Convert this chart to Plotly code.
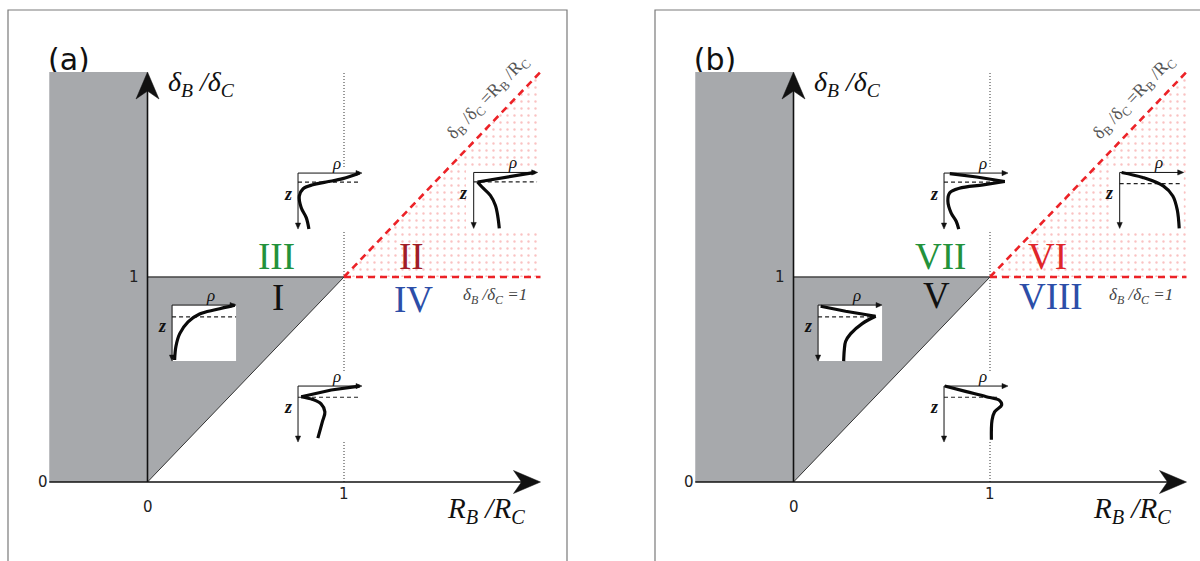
import plotly.graph_objects as go

# ---------------------------------------------------------------- geometry
W, H = 1200, 561
UX, UY = 196.5, 205.0                 # pixels per unit of R_B/R_C and δ_B/δ_C
PANEL_ORIGIN = {"a": (147.5, 482.0), "b": (793.5, 482.0)}
PANEL_SPAN = {"a": (0, 600), "b": (600, 1200)}
INSET_W, INSET_H = 64.0, 56.0         # size of a profile sketch, pixels
RHO_RANGE = (-0.25, 1.06)
Z_RANGE = (-0.30, 1.06)

# ---------------------------------------------------------------- regime diagram
strip_x = [-0.5, 0.0, 0.0, -0.5, -0.5]
strip_y = [0.0, 0.0, 2.0, 2.0, 0.0]
wedge_x = [0.0, 0.0, 1.0, 0.0]
wedge_y = [0.0, 1.0, 1.0, 0.0]
dotted_x = [1.0, 2.0, 2.0, 1.0]
dotted_y = [1.0, 1.0, 2.0, 1.0]
unit_x = [0.0, 1.0]
unit_y = [1.0, 1.0]
diag_x = [0.0, 1.0]
diag_y = [0.0, 1.0]
red_flat_x = [1.0, 2.0]
red_flat_y = [1.0, 1.0]
red_diag_x = [1.0, 2.0]
red_diag_y = [1.0, 2.0]
crit_x = [1.0, 1.0]
crit_y = [0.0, 2.0]
x_axis_ends = [-0.5, 2.0]
y_axis_ends = [0.0, 2.0]

tick_text = ["0", "1", "0", "1"]
tick_x = [-0.53, -0.07, 0.0, 1.0]
tick_y = [0.0, 1.0, -0.12, -0.06]

region_names_a = ["III", "I", "II", "IV"]
region_names_b = ["VII", "V", "VI", "VIII"]
region_colors_a = ["#23923b", "#111111", "#a11d26", "#2c4ea8"]
region_colors_b = ["#23923b", "#111111", "#e0262b", "#2c4ea8"]
region_x_a = [0.659, 0.664, 1.346, 1.356]
region_y_a = [1.102, 0.898, 1.098, 0.888]
region_x_b = [0.746, 0.730, 1.295, 1.310]
region_y_b = [1.102, 0.912, 1.098, 0.907]

# ---------------------------------------------------------------- density profiles ρ(z)
# ρ to the right, z downward, both scaled to [0, 1]; KINK marks a sharp corner
RHO_A1 = [0.96, 0.70, 0.44, 0.23, 0.08, 0.02, 0.05, 0.13, 0.17]
Z_A1 = [0.00, 0.10, 0.16, 0.21, 0.28, 0.41, 0.62, 0.80, 1.00]
RHO_A2 = [0.96, 0.52, 0.06, 0.13, 0.26, 0.34, 0.38, 0.40]
Z_A2 = [0.00, 0.08, 0.17, 0.26, 0.41, 0.59, 0.81, 1.00]
RHO_A3 = [0.98, 0.69, 0.43, 0.25, 0.12, 0.06, 0.04]
Z_A3 = [0.00, 0.08, 0.16, 0.30, 0.51, 0.74, 0.98]
RHO_A4 = [0.96, 0.52, 0.05, 0.23, 0.36, 0.42, 0.38, 0.31]
Z_A4 = [0.00, 0.07, 0.19, 0.24, 0.32, 0.46, 0.64, 0.93]

RHO_B1 = [0.09, 0.51, 0.95, 0.61, 0.24, 0.09, 0.06, 0.11, 0.19, 0.23]
Z_B1 = [0.01, 0.07, 0.15, 0.21, 0.27, 0.35, 0.50, 0.71, 0.86, 1.00]
RHO_B2 = [0.03, 0.36, 0.68, 0.83, 0.90, 0.93]
Z_B2 = [0.00, 0.09, 0.24, 0.42, 0.67, 1.00]
RHO_B3 = [0.04, 0.43, 0.90, 0.69, 0.51, 0.43, 0.41, 0.40]
Z_B3 = [0.02, 0.11, 0.20, 0.33, 0.51, 0.65, 0.80, 1.00]
RHO_B4 = [0.01, 0.35, 0.66, 0.87, 0.90, 0.79, 0.75, 0.74]
Z_B4 = [0.00, 0.10, 0.19, 0.26, 0.34, 0.46, 0.61, 0.96]

KINK_A = [None, 2, None, 2]
KINK_B = [2, None, 2, None]
DASH_Z_A = [0.16, 0.17, 0.21, 0.20]
DASH_Z_B = [0.16, 0.20, 0.21, 0.20]
DASH_END_A = [0.94, 0.99, 1.0, 0.94]
DASH_END_B = [0.92, 0.94, 0.9, 0.87]

# lower-left corner of each sketch's axes, in diagram units
INSET_CORNERS = [(0.766, 1.507), (1.66, 1.51), (0.125, 0.863), (0.766, 0.468)]
# white backing behind each sketch: (rho0, rho1, z0, z1) in sketch units
INSET_BACKING = [(-0.25, 1.06, -0.10, 1.03), (-0.12, 1.0, -0.06, 1.03),
                 (0.0, 1.0, 0.0, 1.0), (-0.25, 1.06, -0.27, 0.99)]

GRAY = "#a7a9ac"
SERIF = "Liberation Serif"
SANS = "DejaVu Sans"

fig = go.Figure()
annotations = []
layout_axes = {}


def axis_name(i, kind):
    return kind + ("axis" if i == 1 else f"axis{i}")


def ref(i, kind):
    return kind if i == 1 else f"{kind}{i}"


def arrow_head(tip_x, tip_y, ddx, ddy, sx, sy, length, half, notch):
    """Outline of an arrowhead ending at (tip_x, tip_y).

    (ddx, ddy) is the screen direction of the arrow, sx / sy convert screen
    pixels into data units along each axis."""
    local = [(0, 0), (-length, -half), (-length + notch, 0), (-length, half), (0, 0)]
    xs, ys = [], []
    for a, p in local:
        px = a * ddx - p * ddy
        py = a * ddy + p * ddx
        xs.append(tip_x + px * sx)
        ys.append(tip_y + py * sy)
    return xs, ys


def add_arrow(common, x0, y0, x1, y1, ddx, ddy, sx, sy, length, half, notch, width):
    back = length - notch - 0.5
    lx = x1 - back * ddx * sx
    ly = y1 - back * ddy * sy
    fig.add_trace(go.Scatter(x=[x0, lx], y=[y0, ly], mode="lines",
                             line=dict(color="#111", width=width), **common))
    hx, hy = arrow_head(x1, y1, ddx, ddy, sx, sy, length, half, notch)
    fig.add_trace(go.Scatter(x=hx, y=hy, mode="lines", fill="toself", fillcolor="#111",
                             line=dict(color="#111", width=0.5), **common))


def add_panel(key, idx, tag, names, colors, rx, ry):
    ox, oy = PANEL_ORIGIN[key]
    p0, p1 = PANEL_SPAN[key]
    xr, yr = ref(idx, "x"), ref(idx, "y")
    layout_axes[axis_name(idx, "x")] = dict(
        domain=[p0 / W, p1 / W], range=[(p0 - ox) / UX, (p1 - ox) / UX],
        visible=False, anchor=yr)
    layout_axes[axis_name(idx, "y")] = dict(
        domain=[0, 1], range=[(oy - H) / UY, oy / UY], visible=False, anchor=xr)

    common = dict(xaxis=xr, yaxis=yr, showlegend=False, hoverinfo="skip")
    # panel tag sits underneath the gray strip
    fig.add_trace(go.Scatter(x=[-0.40], y=[2.045], mode="text", text=[tag],
                             textfont=dict(family=SANS, size=30, color="#111"),
                             **common))
    fig.add_trace(go.Scatter(x=strip_x, y=strip_y, fill="toself", fillcolor=GRAY,
                             mode="lines", line=dict(width=0), **common))
    fig.add_trace(go.Scatter(x=wedge_x, y=wedge_y, fill="toself", fillcolor=GRAY,
                             mode="lines", line=dict(width=0), **common))
    fig.add_trace(go.Scatter(
        x=dotted_x, y=dotted_y, fill="toself", fillcolor="rgba(0,0,0,0)",
        fillpattern=dict(shape=".", fgcolor="rgba(240,80,80,0.7)",
                         bgcolor="rgba(255,255,255,0)", size=7, solidity=0.09),
        mode="lines", line=dict(width=0), **common))
    fig.add_trace(go.Scatter(x=crit_x, y=crit_y, mode="lines",
                             line=dict(color="#333", width=1, dash="1px,2px"), **common))
    fig.add_trace(go.Scatter(x=unit_x, y=unit_y, mode="lines",
                             line=dict(color="#444", width=1.6), **common))
    fig.add_trace(go.Scatter(x=diag_x, y=diag_y, mode="lines",
                             line=dict(color="#333", width=1), **common))
    for lx, ly in ((red_flat_x, red_flat_y), (red_diag_x, red_diag_y)):
        fig.add_trace(go.Scatter(x=lx, y=ly, mode="lines",
                                 line=dict(color="#ec2227", width=2.6, dash="7px,5px"),
                                 **common))

    # arrowed axes
    add_arrow(common, x_axis_ends[0], 0, x_axis_ends[1], 0, 1, 0, 1 / UX, -1 / UY,
              27, 11.5, 8, 1.6)
    add_arrow(common, 0, y_axis_ends[0], 0, y_axis_ends[1], 0, -1, 1 / UX, -1 / UY,
              27, 11.5, 8, 1.6)

    txt = dict(xref=xr, yref=yr, showarrow=False, xanchor="center", yanchor="middle")
    for t, tx, ty in zip(tick_text, tick_x, tick_y):
        annotations.append(dict(x=tx, y=ty, text=t,
                                font=dict(family=SANS, size=15, color="#222"), **txt))
    annotations.append(dict(x=0.277, y=1.946,
                            text="<i>δ<sub>B</sub> /δ<sub>C</sub></i>",
                            font=dict(family=SERIF, size=28, color="#111"), **txt))
    annotations.append(dict(x=1.722, y=-0.135,
                            text="<i>R<sub>B</sub> /R<sub>C</sub></i>",
                            font=dict(family=SERIF, size=29, color="#111"), **txt))
    annotations.append(dict(x=1.768, y=0.905,
                            text="<i>δ<sub>B</sub> /δ<sub>C</sub> =1</i>",
                            font=dict(family=SERIF, size=17, color="#444"), **txt))
    annotations.append(dict(x=1.735, y=1.875, textangle=-46.2,
                            text="δ<sub>B</sub> /δ<sub>C</sub> =R<sub>B</sub> /R<sub>C</sub>",
                            font=dict(family=SERIF, size=18, color="#555"), **txt))
    for n, c, x, y in zip(names, colors, rx, ry):
        annotations.append(dict(x=x, y=y, text=n,
                                font=dict(family=SERIF, size=37, color=c), **txt))


def add_inset(key, idx, corner, backing, rho, z, kink, dash_z, dash_end):
    ox, oy = PANEL_ORIGIN[key]
    cx = ox + corner[0] * UX
    cy = oy - corner[1] * UY
    left = cx + RHO_RANGE[0] * INSET_W
    right = cx + RHO_RANGE[1] * INSET_W
    top = cy + Z_RANGE[0] * INSET_H
    bottom = cy + Z_RANGE[1] * INSET_H
    xr, yr = ref(idx, "x"), ref(idx, "y")
    layout_axes[axis_name(idx, "x")] = dict(
        domain=[left / W, right / W], range=list(RHO_RANGE), visible=False, anchor=yr)
    layout_axes[axis_name(idx, "y")] = dict(
        domain=[1 - bottom / H, 1 - top / H], range=[Z_RANGE[1], Z_RANGE[0]],
        visible=False, anchor=xr)
    common = dict(xaxis=xr, yaxis=yr, showlegend=False, hoverinfo="skip")

    bx0, bx1, bz0, bz1 = backing
    fig.add_trace(go.Scatter(x=[bx0, bx1, bx1, bx0, bx0], y=[bz0, bz0, bz1, bz1, bz0],
                             fill="toself", fillcolor="white", mode="lines",
                             line=dict(width=0), **common))
    fig.add_trace(go.Scatter(x=[0, dash_end], y=[dash_z, dash_z], mode="lines",
                             line=dict(color="#222", width=1.2, dash="4px,3px"), **common))

    # ρ axis to the right, z axis pointing down
    sx, sz = 1 / INSET_W, 1 / INSET_H
    add_arrow(common, 0, 0, 1.0, 0, 1, 0, sx, sz, 6, 2.6, 0, 1)
    add_arrow(common, 0, 0, 0, 1.0, 0, 1, sx, sz, 6, 2.6, 0, 1)

    prof = dict(color="#0a0a0a", width=3.2)
    if kink is None:
        fig.add_trace(go.Scatter(x=rho, y=z, mode="lines",
                                 line=dict(shape="spline", smoothing=1.0, **prof), **common))
    else:
        fig.add_trace(go.Scatter(x=rho[:kink + 1], y=z[:kink + 1], mode="lines",
                                 line=prof, **common))
        fig.add_trace(go.Scatter(x=rho[kink:], y=z[kink:], mode="lines",
                                 line=dict(shape="spline", smoothing=1.0, **prof), **common))

    txt = dict(xref=xr, yref=yr, showarrow=False, xanchor="center", yanchor="middle")
    annotations.append(dict(x=0.6, y=-0.17, text="<i>ρ</i>",
                            font=dict(family=SERIF, size=17, color="#111"), **txt))
    annotations.append(dict(x=-0.16, y=0.37, text="<b><i>z</i></b>",
                            font=dict(family=SERIF, size=18, color="#111"), **txt))


add_panel("a", 1, "(a)", region_names_a, region_colors_a, region_x_a, region_y_a)
add_panel("b", 2, "(b)", region_names_b, region_colors_b, region_x_b, region_y_b)

profiles_a = [(RHO_A1, Z_A1), (RHO_A2, Z_A2), (RHO_A3, Z_A3), (RHO_A4, Z_A4)]
profiles_b = [(RHO_B1, Z_B1), (RHO_B2, Z_B2), (RHO_B3, Z_B3), (RHO_B4, Z_B4)]
idx = 3
for key, profs, kinks, dz, de in (("a", profiles_a, KINK_A, DASH_Z_A, DASH_END_A),
                                  ("b", profiles_b, KINK_B, DASH_Z_B, DASH_END_B)):
    for k in range(4):
        add_inset(key, idx, INSET_CORNERS[k], INSET_BACKING[k], profs[k][0], profs[k][1],
                  kinks[k], dz[k], de[k])
        idx += 1

# panel frames
frame = dict(type="rect", xref="paper", yref="paper", line=dict(color="#7a7a7a", width=1.2),
             fillcolor="rgba(0,0,0,0)", layer="above")
shapes = [
    dict(x0=8 / W, x1=567 / W, y0=-0.2, y1=1 - 10 / H, **frame),
    dict(x0=655 / W, x1=1.2, y0=-0.2, y1=1 - 10 / H, **frame),
]

fig.update_layout(
    width=W, height=H, margin=dict(l=0, r=0, t=0, b=0),
    paper_bgcolor="white", plot_bgcolor="rgba(0,0,0,0)",
    showlegend=False, annotations=annotations, shapes=shapes,
    **layout_axes,
)

fig.write_html("out.html")
